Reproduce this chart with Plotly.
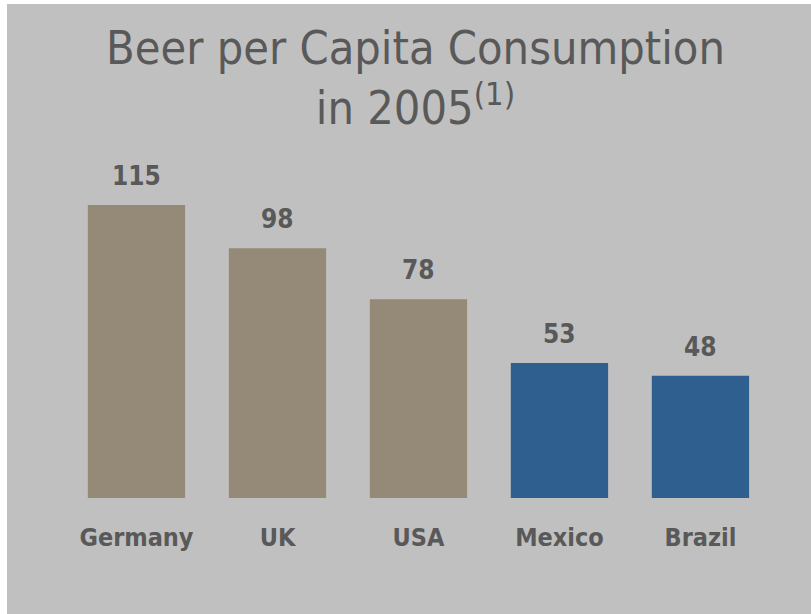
import plotly.graph_objects as go

# Beer consumption per capita, 2005
countries = ["Germany", "UK", "USA", "Mexico", "Brazil"]
liters = [115, 98, 78, 53, 48]
bar_colors = ["#958977", "#958977", "#958977", "#2f5f8f", "#2f5f8f"]

TEXT = "#595959"
BG = "#c0c0c0"
FONT = "DejaVu Sans Condensed, Tahoma, DejaVu Sans, sans-serif"

PLOT_TOP, PLOT_BOTTOM = 150, 498          # pixel rows of the plot area
PLOT_H = PLOT_BOTTOM - PLOT_TOP


def paper_y(px):
    """Convert a pixel row (from the top) into paper y units."""
    return (PLOT_BOTTOM - px) / PLOT_H


fig = go.Figure(
    go.Bar(
        x=list(range(len(countries))),
        y=liters,
        width=0.69,
        marker=dict(color=bar_colors, line=dict(width=0)),
        hoverinfo="skip",
    )
)

# value labels above bars
for i, v in enumerate(liters):
    fig.add_annotation(
        x=i, y=v, text=f"<b>{v}</b>", showarrow=False,
        yanchor="bottom", yshift=12,
        font=dict(family=FONT, size=26, color=TEXT),
    )

# chart title
fig.add_annotation(
    xref="paper", yref="paper", x=415.5 / 811, y=paper_y(19),
    xanchor="center", yanchor="top", showarrow=False,
    text="Beer per Capita Consumption<br>in 2005<sup>(1)</sup>",
    font=dict(family=FONT, size=46.5, color=TEXT),
)

# white strips along the left and top edges
fig.add_shape(type="rect", xref="paper", yref="paper",
              x0=0, x1=7 / 811, y0=-1, y1=3, fillcolor="white",
              line=dict(width=0), layer="below")
fig.add_shape(type="rect", xref="paper", yref="paper",
              x0=0, x1=1, y0=paper_y(4), y1=paper_y(-10),
              fillcolor="white", line=dict(width=0), layer="below")

fig.update_layout(
    width=811, height=614,
    margin=dict(l=0, r=0, t=PLOT_TOP, b=614 - PLOT_BOTTOM, pad=0),
    paper_bgcolor=BG, plot_bgcolor=BG,
    showlegend=False,
    xaxis=dict(
        range=[-0.968, 4.784], showgrid=False, zeroline=False,
        showline=False, ticks="", tickmode="array",
        tickvals=list(range(len(countries))),
        ticktext=[f"<b>{c}</b>" for c in countries],
        tickfont=dict(family=FONT, size=25, color=TEXT),
        ticklabelstandoff=22,
    ),
    yaxis=dict(range=[0, 136.6], visible=False),
)

fig.write_html("out.html")
